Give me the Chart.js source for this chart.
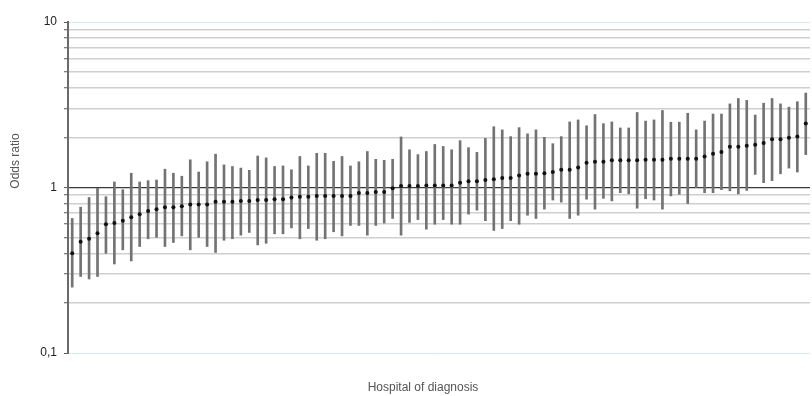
<!DOCTYPE html>
<html>
<head>
<meta charset="utf-8">
<title>Odds ratio by hospital of diagnosis</title>
<script src="https://cdn.jsdelivr.net/npm/chart.js@4/dist/chart.umd.min.js"></script>
<style>
  html, body { margin: 0; padding: 0; background: #ffffff; }
  #wrap { width: 812px; height: 396px; position: relative; }
</style>
</head>
<body>
<div id="wrap"><canvas id="chart"></canvas></div>
<script>
// Hospitals, ordered by their odds ratio
const hospitals = [
  1, 2, 3, 4, 5, 6, 7, 8, 9, 10, 11, 12, 13, 14, 15, 16, 17, 18, 19, 20,
  21, 22, 23, 24, 25, 26, 27, 28, 29, 30, 31, 32, 33, 34, 35, 36, 37, 38, 39, 40,
  41, 42, 43, 44, 45, 46, 47, 48, 49, 50, 51, 52, 53, 54, 55, 56, 57, 58, 59, 60,
  61, 62, 63, 64, 65, 66, 67, 68, 69, 70, 71, 72, 73, 74, 75, 76, 77, 78, 79, 80,
  81, 82, 83, 84, 85, 86, 87, 88
];

// Point estimate of the odds ratio per hospital
const oddsRatio = [
  0.40, 0.47, 0.49, 0.53, 0.60, 0.61, 0.63, 0.66, 0.69, 0.72,
  0.74, 0.76, 0.76, 0.77, 0.79, 0.79, 0.79, 0.82, 0.82, 0.82,
  0.83, 0.83, 0.84, 0.84, 0.85, 0.85, 0.87, 0.88, 0.88, 0.89,
  0.89, 0.89, 0.89, 0.89, 0.925, 0.925, 0.94, 0.94, 0.99, 1.02,
  1.02, 1.02, 1.03, 1.03, 1.03, 1.03, 1.07, 1.09, 1.09, 1.11,
  1.12, 1.14, 1.14, 1.18, 1.21, 1.21, 1.22, 1.24, 1.28, 1.28,
  1.32, 1.41, 1.43, 1.43, 1.46, 1.46, 1.46, 1.46, 1.47, 1.47,
  1.47, 1.49, 1.49, 1.49, 1.49, 1.54, 1.60, 1.64, 1.76, 1.76,
  1.79, 1.81, 1.86, 1.96, 1.96, 2.00, 2.03, 2.44
];

// Lower bound of the confidence interval
const ciLower = [
  0.25, 0.29, 0.28, 0.29, 0.40, 0.345, 0.42, 0.36, 0.44, 0.49,
  0.50, 0.44, 0.465, 0.51, 0.42, 0.50, 0.44, 0.405, 0.48, 0.49,
  0.515, 0.535, 0.45, 0.46, 0.525, 0.525, 0.57, 0.49, 0.565, 0.48,
  0.49, 0.54, 0.51, 0.59, 0.59, 0.515, 0.59, 0.61, 0.65, 0.515,
  0.615, 0.64, 0.56, 0.60, 0.64, 0.60, 0.60, 0.69, 0.73, 0.63,
  0.55, 0.565, 0.63, 0.60, 0.68, 0.65, 0.74, 0.84, 0.816, 0.65,
  0.68, 0.85, 0.74, 0.86, 0.83, 0.93, 0.915, 0.75, 0.855, 0.84,
  0.74, 0.89, 0.91, 0.80, 1.00, 0.93, 0.93, 0.97, 0.955, 0.915,
  0.96, 1.20, 1.07, 1.10, 1.21, 1.31, 1.24, 1.58
];

// Upper bound of the confidence interval
const ciUpper = [
  0.65, 0.76, 0.87, 0.99, 0.88, 1.08, 0.97, 1.22, 1.08, 1.10,
  1.11, 1.29, 1.22, 1.17, 1.47, 1.24, 1.43, 1.59, 1.37, 1.34,
  1.31, 1.27, 1.55, 1.51, 1.34, 1.35, 1.28, 1.54, 1.35, 1.61,
  1.61, 1.44, 1.54, 1.35, 1.43, 1.65, 1.48, 1.46, 1.48, 2.02,
  1.69, 1.58, 1.65, 1.82, 1.77, 1.69, 1.92, 1.74, 1.63, 1.98,
  2.33, 2.23, 2.03, 2.30, 2.11, 2.23, 2.01, 1.84, 2.03, 2.49,
  2.56, 2.36, 2.76, 2.43, 2.49, 2.29, 2.29, 2.84, 2.52, 2.56,
  2.92, 2.48, 2.48, 2.81, 2.23, 2.52, 2.78, 2.78, 3.20, 3.45,
  3.36, 2.74, 3.23, 3.45, 3.20, 3.06, 3.30, 3.72
];

// Y axis: a tick mark at every 1..9 step of each decade, labels at the decades
const yTickValues = [
  0.1, 0.2, 0.3, 0.4, 0.5, 0.6, 0.7, 0.8, 0.9,
  1, 2, 3, 4, 5, 6, 7, 8, 9, 10
];
const yLabelledValues = [0.1, 1, 10];
const yTickLabels = ['0,1', '1', '10'];

const yTitle = 'Odds ratio';
const xTitle = 'Hospital of diagnosis';

const FONT = 'Liberation Sans, Arial, sans-serif';

// Axis titles placed beside the plot
const axisTitles = {
  id: 'axisTitles',
  afterDraw(chart) {
    const ctx = chart.ctx;
    ctx.save();
    ctx.font = '12px ' + FONT;
    ctx.fillStyle = '#555555';
    ctx.textAlign = 'center';
    ctx.textBaseline = 'middle';
    ctx.fillText(xTitle, 423, 388);
    ctx.translate(16, 161);
    ctx.rotate(-Math.PI / 2);
    ctx.fillText(yTitle, 0, 0);
    ctx.restore();
  }
};

new Chart(document.getElementById('chart'), {
  type: 'bar',
  data: {
    labels: hospitals,
    datasets: [
      {
        type: 'line',
        label: 'Odds ratio',
        data: oddsRatio,
        showLine: false,
        pointRadius: 2,
        pointHoverRadius: 2,
        pointBackgroundColor: '#111111',
        pointBorderWidth: 0,
        order: 0
      },
      {
        type: 'bar',
        label: 'Confidence interval',
        data: ciLower.map((lo, i) => [lo, ciUpper[i]]),
        backgroundColor: '#737373',
        borderWidth: 0,
        barThickness: 2,
        order: 1
      }
    ]
  },
  options: {
    responsive: true,
    maintainAspectRatio: false,
    devicePixelRatio: 1,
    animation: false,
    layout: { padding: { top: 22, right: 0, bottom: 43, left: 0 } },
    plugins: {
      legend: { display: false },
      tooltip: { enabled: false }
    },
    scales: {
      x: {
        display: false,
        offset: true
      },
      y: {
        type: 'logarithmic',
        min: 0.1,
        max: 10,
        afterBuildTicks(scale) {
          scale.ticks = yTickValues.map(v => ({ value: v }));
        },
        afterFit(scale) {
          scale.width = 68;
        },
        ticks: {
          autoSkip: false,
          padding: 7,
          color: '#222222',
          font: { family: FONT, size: 12 },
          callback(value) {
            const i = yLabelledValues.indexOf(value);
            return i >= 0 ? yTickLabels[i] : '';
          }
        },
        grid: {
          drawTicks: true,
          tickLength: 4,
          tickColor: '#555555',
          tickWidth: 1,
          color(ctx) {
            const v = ctx.tick ? ctx.tick.value : null;
            if (v === 1) return '#3a3a3a';
            if (v === 0.1 || v === 10) return '#d3eaf7';
            return '#cfcfcf';
          },
          lineWidth(ctx) {
            const v = ctx.tick ? ctx.tick.value : null;
            if (v === 1) return 1.2;
            if (v === 0.1 || v === 10) return 1;
            return 1.5;
          }
        },
        border: { display: true, color: '#6a6a6a', width: 2 }
      }
    }
  },
  plugins: [axisTitles]
});
</script>
</body>
</html>
